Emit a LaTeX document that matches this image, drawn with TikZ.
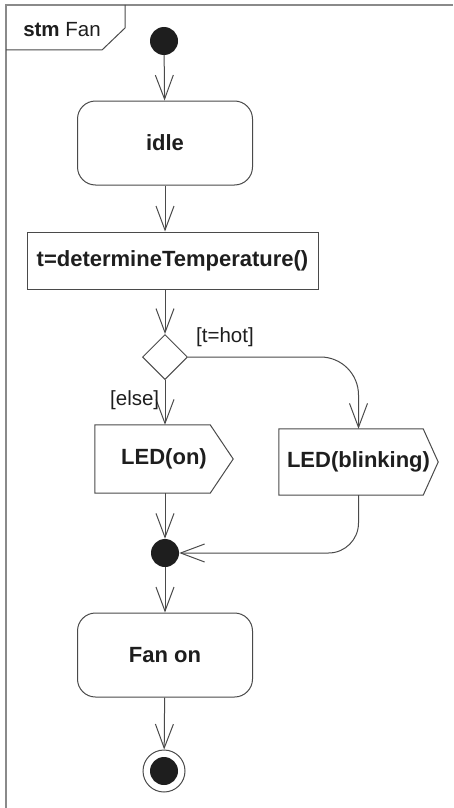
\documentclass[tikz,border=0pt]{standalone}
\usepackage{fontspec}
\setmainfont{Liberation Sans}
\usepackage{tikz}
\usetikzlibrary{arrows.meta,positioning,calc,shapes.geometric}
\definecolor{linec}{HTML}{4A4A4A}
\definecolor{framec}{HTML}{8A8A8A}
\definecolor{inkc}{HTML}{1E1E1E}
\newcommand{\sendout}[2]{% outline of a send-signal action, #2 = tip length
  \draw[linec,line width=1pt] (#1.north west) -- ($(#1.north east)+(-#2,0)$)
    -- (#1.east) -- ($(#1.south east)+(-#2,0)$) -- (#1.south west) -- cycle;}

\begin{document}
\begin{tikzpicture}[x=1pt,y=-1pt,text=inkc,
  font=\fontsize{22}{26}\selectfont\bfseries,
  lbl/.style={font=\fontsize{20.5}{24}\selectfont},
  act/.style={draw=linec,line width=1pt,rounded corners=18pt,
              minimum width=175pt,minimum height=84pt},
  plain/.style={draw=linec,line width=1pt,minimum height=57pt},
  sendbox/.style={minimum height=68pt,inner sep=0pt},
  dec/.style={diamond,draw=linec,line width=1pt,minimum width=45pt,
              minimum height=45pt,inner sep=0pt},
  dot/.style={circle,fill=inkc,minimum size=28pt,inner sep=0pt},
  flow/.style={-{Straight Barb[length=24pt,width=18pt,line width=1pt]},
               draw=linec,line width=1pt},
]
\useasboundingbox (0,0) rectangle (453,808);

% frame and header
\draw[framec,line width=2pt] (6,808) -- (6,5) -- (453,5);
\draw[linec,line width=1pt] (6,50) -- (102,50) -- (125,28) -- (125,5);
\node[lbl] (hdr) at (62,30) {\textbf{stm} Fan};

\node[dot] (init) at (164,41) {};
\node[act] (idle) at (165,143) {idle};
\node[plain,minimum width=291pt] (temp) at (172.5,260.5) {t=determineTemperature()};
\node[dec] (choice) at (165,357) {};
\node[sendbox,minimum width=138pt] (ledon) at (164,459) {LED(on)};
\node[sendbox,minimum width=159pt,minimum height=66pt] (ledblink) at (358.5,462) {LED(blinking)};
\sendout{ledon}{23}
\sendout{ledblink}{15}
\node[dot] (merge) at (165,553) {};
\node[act] (fanon) at (165,655) {Fan on};
\node[circle,draw=linec,line width=1pt,minimum size=42pt,inner sep=0pt] (final) at (164,771) {};
\node[dot] (finalin) at (final) {};

\draw[flow] (init) -- (idle);
\draw[flow] (idle.south) -- (idle.south |- temp.north);
\draw[flow] (idle.south |- temp.south) -- (choice.north);
\draw[flow] (choice.south) -- (ledon.north -| choice.south)
  node[lbl,pos=0.45,left=2pt] {[else]};
\draw[flow,rounded corners=38pt] (choice.east) -- (choice.east -| ledblink.north)
  -- (ledblink.north);
\node[lbl] (hot) at (225,337) {[t=hot]};
\draw[flow] (ledon.south -| merge.north) -- (merge.north);
\draw[flow,rounded corners=30pt] (ledblink.south) -- (ledblink.south |- merge.east)
  -- (merge.east);
\draw[flow] (merge) -- (fanon);
\draw[flow] (fanon) -- (final);
\end{tikzpicture}
\end{document}
